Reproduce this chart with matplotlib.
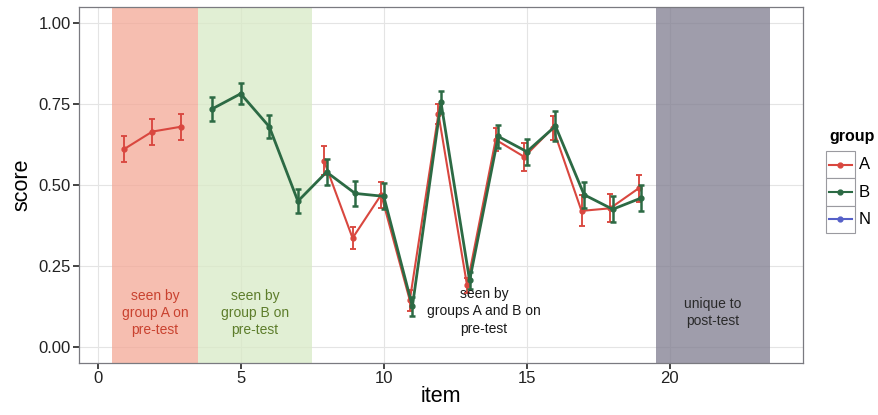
import matplotlib
matplotlib.use("Agg")
import matplotlib.pyplot as plt
import numpy as np
from matplotlib.patches import Rectangle
from matplotlib.lines import Line2D

plt.rcParams['font.family'] = ['Liberation Sans', 'DejaVu Sans']

# group A: items 1-3 and 8-19
items_a = [1, 2, 3, 8, 9, 10, 11, 12, 13, 14, 15, 16, 17, 18, 19]
score_a = [0.61, 0.665, 0.68, 0.575, 0.336, 0.47, 0.144, 0.72, 0.19,
           0.64, 0.587, 0.676, 0.42, 0.428, 0.49]
err_a = [0.04, 0.04, 0.04, 0.045, 0.034, 0.04, 0.033, 0.03, 0.023,
         0.036, 0.043, 0.036, 0.048, 0.043, 0.042]

# group B: items 4-19
items_b = [4, 5, 6, 7, 8, 9, 10, 11, 12, 13, 14, 15, 16, 17, 18, 19]
score_b = [0.735, 0.782, 0.68, 0.45, 0.54, 0.474, 0.465, 0.125, 0.755,
           0.205, 0.65, 0.603, 0.682, 0.47, 0.425, 0.46]
err_b = [0.037, 0.033, 0.035, 0.037, 0.04, 0.038, 0.04, 0.03, 0.034,
         0.025, 0.036, 0.04, 0.046, 0.04, 0.04, 0.04]

groups = ['A', 'B', 'N']
group_colors = ['#d9473f', '#2c6a44', '#5560c8']

# shaded regions: (start, end, fill, label, text colour)
regions = [
    (0.5, 3.5, '#f4a896', 'seen by\ngroup A on\npre-test', '#c9422f'),
    (3.5, 7.5, '#d8eac6', 'seen by\ngroup B on\npre-test', '#5d7d2b'),
    (19.5, 23.5, '#7f7c8f', 'unique to\npost-test', '#2a2a2a'),
]
mid_label = 'seen by\ngroups A and B on\npre-test'


def draw_group(ax, items, scores, errs, offset, color, lw, z):
    x = np.array(items, dtype=float)
    y = np.array(scores)
    # break the line where items are not consecutive
    cuts = np.where(np.diff(x) > 1)[0] + 1
    for xs, ys in zip(np.split(x, cuts), np.split(y, cuts)):
        ax.plot(xs + offset, ys, color=color, lw=lw, marker='o', ms=3.5,
                zorder=z)
    ax.errorbar(x + offset, y, yerr=errs, fmt='none', ecolor=color,
                elinewidth=lw * 0.9, capsize=2.2, capthick=lw * 0.9, zorder=z)


fig = plt.figure(figsize=(8.79, 4.15), dpi=100)
ax = fig.add_axes([79 / 879, 52 / 415, 724 / 879, 356 / 415])

for x0, x1, fill, label, tcol in regions:
    ax.add_patch(Rectangle((x0, -0.05), x1 - x0, 1.1, facecolor=fill,
                           edgecolor='none', alpha=0.75, zorder=1))
    ax.text((x0 + x1) / 2, 0.105, label, ha='center', va='center',
            fontsize=10, color=tcol, linespacing=1.3, zorder=5)
ax.text(13.5, 0.11, mid_label, ha='center', va='center', fontsize=10,
        color='#1a1a1a', linespacing=1.3, zorder=5)

# red group sits slightly left of green (dodge)
draw_group(ax, items_a, score_a, err_a, -0.09, group_colors[0], 1.5, 3)
draw_group(ax, items_b, score_b, err_b, 0.0, group_colors[1], 2.0, 4)

ax.set_xlim(-0.65, 24.65)
ax.set_ylim(-0.05, 1.05)
ax.set_xticks([0, 5, 10, 15, 20])
ax.set_yticks([0, 0.25, 0.5, 0.75, 1.0])
ax.set_yticklabels(['0.00', '0.25', '0.50', '0.75', '1.00'])
ax.grid(True, color='#e4e4e4', lw=0.8, zorder=0)
ax.set_axisbelow(True)
for s in ax.spines.values():
    s.set_color('#7a7a80')
    s.set_linewidth(0.9)
ax.tick_params(axis='both', direction='out', length=4, width=1.2,
               color='#222222', labelsize=12, labelcolor='#222222', pad=2)
ax.set_xlabel('item', fontsize=15.5, labelpad=0)
ax.set_ylabel('score', fontsize=15.5, labelpad=4)

# legend drawn by hand in ggplot style
fig.text(829 / 879, 1 - 137 / 415, 'group', fontsize=11.5, fontweight='bold',
         ha='left', va='center')
lax = fig.add_axes([826 / 879, 1 - 233 / 415, 29 / 879, 82 / 415])
lax.set_xlim(0, 1)
lax.set_ylim(0, 3)
lax.axis('off')
for i, (g, c) in enumerate(zip(groups, group_colors)):
    yc = 2.5 - i
    lax.add_patch(Rectangle((0, yc - 0.5), 1, 1, facecolor='white',
                            edgecolor='#9a9aa0', lw=0.8, clip_on=False))
    lax.add_line(Line2D([0.1, 0.9], [yc, yc], color=c, lw=1.5))
    lax.plot([0.5], [yc], 'o', color=c, ms=3.5)
    fig.text(859 / 879, 1 - (233 - 82 * (yc / 3)) / 415, g, fontsize=12,
             ha='left', va='center')

fig.savefig('out.png', dpi=100)
